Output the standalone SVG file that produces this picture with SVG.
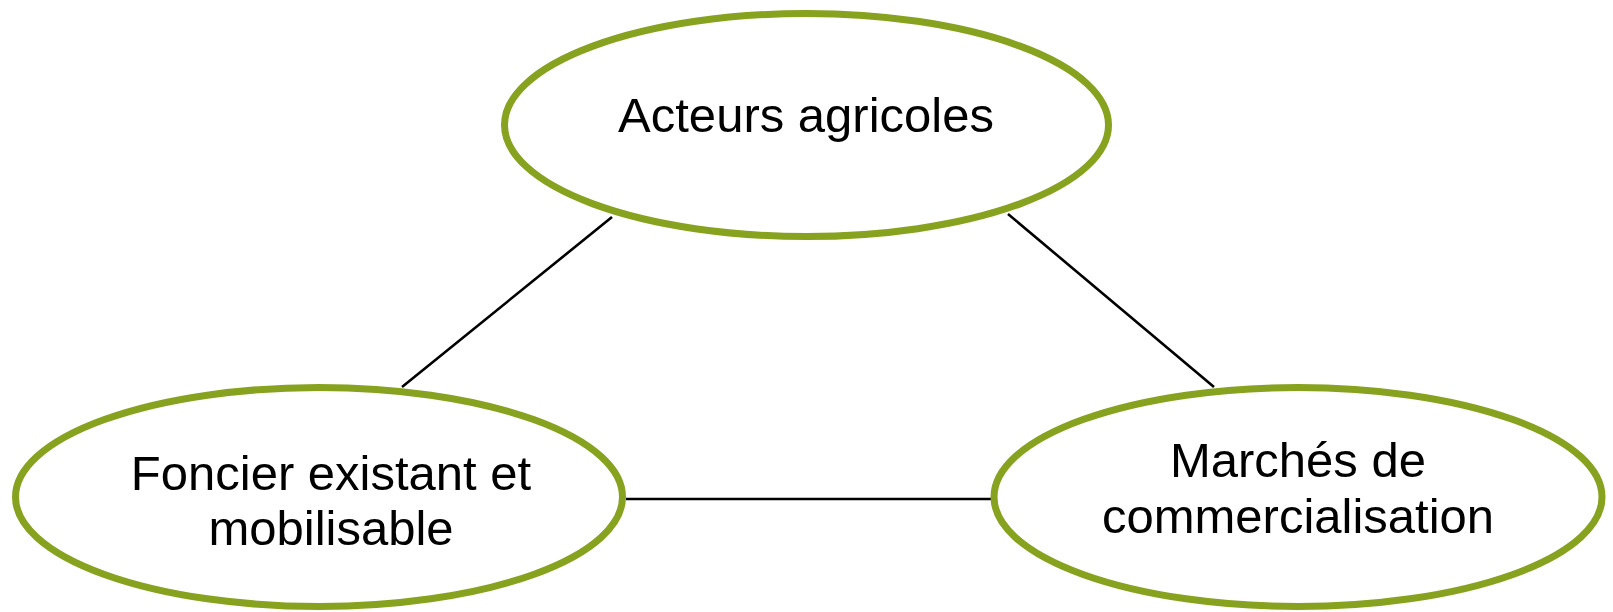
<svg xmlns="http://www.w3.org/2000/svg" width="1613" height="612" viewBox="0 0 1613 612">
<style>
.node{fill:#fff;stroke:#86A21E;stroke-width:7}
.lbl{font-family:"Liberation Sans",Arial,sans-serif;font-size:49px;fill:#000;text-anchor:middle}
.edge{stroke:#000;stroke-width:2.6;fill:none}
</style>
<rect width="1613" height="612" fill="#fff"/>
<g id="connectors">
<line class="edge" x1="612" y1="217" x2="402" y2="387"/>
<line class="edge" x1="1008" y1="214" x2="1214" y2="387"/>
<line class="edge" x1="626" y1="499" x2="991" y2="499"/>
</g>
<g id="node-acteurs">
<ellipse class="node" cx="806.5" cy="125" rx="302" ry="111.5"/>
<text class="lbl" x="806" y="132">Acteurs agricoles</text>
</g>
<g id="node-foncier">
<ellipse class="node" cx="319" cy="497" rx="303.5" ry="109.5"/>
<text class="lbl" x="331" y="490">Foncier existant et</text>
<text class="lbl" x="331" y="545">mobilisable</text>
</g>
<g id="node-marches">
<ellipse class="node" cx="1298" cy="497" rx="304" ry="109.5"/>
<text class="lbl" x="1298" y="477">Marchés de</text>
<text class="lbl" x="1298" y="533">commercialisation</text>
</g>
</svg>
